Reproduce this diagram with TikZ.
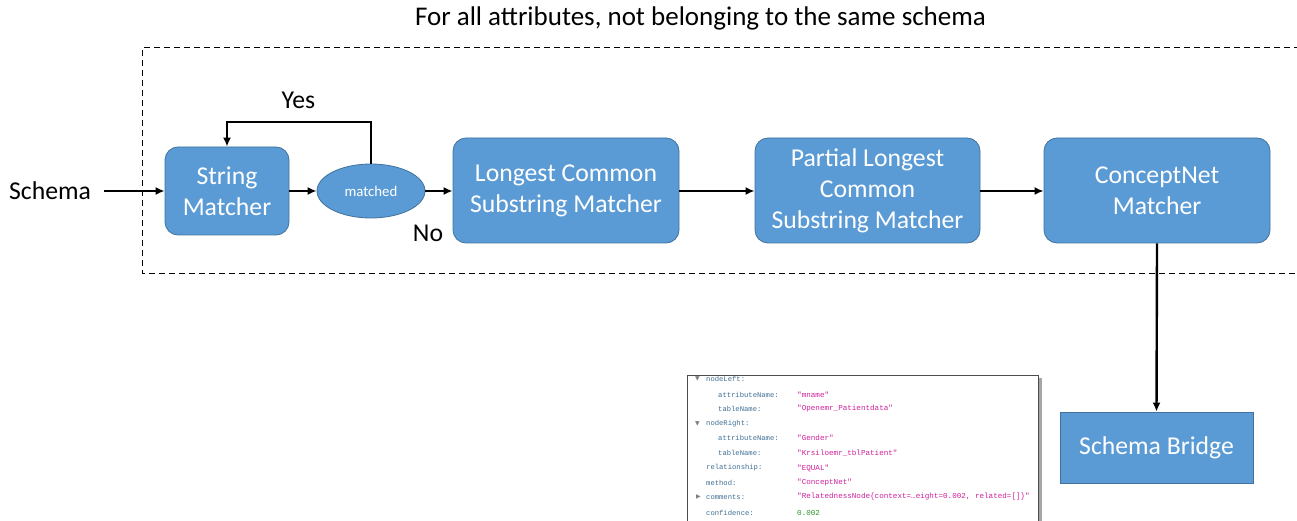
\documentclass[tikz,border=0pt]{standalone}
\usepackage{fontspec}
\setmainfont{Carlito}
\newfontfamily\monofont{Liberation Mono}
\newfontfamily\symfont{DejaVu Sans}
\usetikzlibrary{arrows.meta,shapes.geometric}
\definecolor{boxfill}{HTML}{5B9BD5}
\definecolor{boxdraw}{HTML}{41719C}
\definecolor{keyc}{HTML}{3F6F95}
\definecolor{valc}{HTML}{D0209C}
\definecolor{numc}{HTML}{2E9A2E}
\tikzset{
  proc/.style={draw=boxdraw,fill=boxfill,line width=0.8pt,rounded corners=13pt,text=white,align=center,font=\fontsize{25.7}{31}\selectfont,inner sep=0pt},
  flat/.style={draw=boxdraw,fill=boxfill,line width=0.8pt,text=white,align=center,font=\fontsize{25.7}{31}\selectfont,inner sep=0pt},
  conn/.style={line width=2.4pt,-{Latex[length=9pt,width=8pt]}},
  lbl/.style={font=\fontsize{25.7}{30}\selectfont,inner sep=0pt},
  key/.style={font=\monofont\fontsize{7.2}{9}\selectfont,text=keyc,anchor=west,inner sep=0pt},
  val/.style={font=\monofont\fontsize{7.6}{9}\selectfont,text=valc,anchor=west,inner sep=0pt},
  tri/.style={font=\symfont\fontsize{6}{7}\selectfont,text=gray,anchor=west,inner sep=0pt}
}
\begin{document}
\begin{tikzpicture}[x=1pt,y=-1pt]
\useasboundingbox (0,0) rectangle (1297,521);
% title
\node[lbl,font=\fontsize{27}{30}\selectfont] (title) at (700.5,18) {For all attributes, not belonging to the same schema};
% dashed frame
\draw[dashed,line width=1pt,dash pattern=on 6pt off 4pt] (1300,48) -- (142,48) -- (142,273) -- (1300,273);
% nodes
\node[lbl] (schema) at (50,191) {Schema};
\node[proc,minimum width=124pt,minimum height=88pt] (sm) at (227,191) {String\\Matcher};
\node[ellipse,draw=boxdraw,fill=boxfill,line width=0.8pt,minimum width=108pt,minimum height=54pt,inner sep=0pt,text=white,font=\fontsize{14.8}{17}\selectfont] (match) at (371,191) {matched};
\node[proc,minimum width=226pt,minimum height=105pt] (lcs) at (566,190.5) {Longest Common\\Substring Matcher};
\node[proc,minimum width=225pt,minimum height=105pt] (plcs) at (867.5,190.5) {Partial Longest\\Common\\Substring Matcher};
\node[proc,minimum width=226pt,minimum height=105pt] (cn) at (1157,190.5) {ConceptNet\\Matcher};
\node[flat,minimum width=193pt,minimum height=71pt,rounded corners=0pt] (sb) at (1156.5,447.5) {Schema Bridge};
\node[lbl] (yes) at (298.5,100) {Yes};
\node[lbl] (no) at (428,233) {No};
% connectors
\coordinate (sstart) at (104,191);
\draw[conn] (sstart) -- (sm.west);
\draw[conn] (sm.east) -- (match.west);
\draw[conn] (match.east) -- (lcs.west |- match.east);
\draw[conn] (lcs.east |- sm.east) -- (plcs.west |- sm.east);
\draw[conn] (plcs.east |- sm.east) -- (cn.west |- sm.east);
\draw[conn] (match.north) -- (371,122) -- (227,122) -- (sm.north);
\draw[conn] (cn.south) -- (sb.north);
% screenshot
\fill[black!35] (690,378) rectangle (1042,521);
\node[draw=black!70,fill=white,line width=0.8pt,minimum width=351pt,minimum height=146pt,inner sep=0pt,anchor=north west] (shot) at (687,375) {};
\node[tri] (t1) at (695,379) {▼};
\node[key] (k1) at (706,379) {nodeLeft:};
\node[key] (k2) at (718,395) {attributeName:};
\node[val] (v2) at (797,395) {"mname"};
\node[key] (k3) at (718,409) {tableName:};
\node[val] (v3) at (797,409) {"Openemr\_Patientdata"};
\node[tri] (t4) at (695,424) {▼};
\node[key] (k4) at (706,424) {nodeRight:};
\node[key] (k5) at (718,438) {attributeName:};
\node[val] (v5) at (797,438) {"Gender"};
\node[key] (k6) at (718,453) {tableName:};
\node[val] (v6) at (797,453) {"Krsiloemr\_tblPatient"};
\node[key] (k7) at (706,468) {relationship:};
\node[val] (v7) at (797,468) {"EQUAL"};
\node[key] (k8) at (706,483) {method:};
\node[val] (v8) at (797,483) {"ConceptNet"};
\node[tri] (t9) at (696,497) {▶};
\node[key] (k9) at (706,497) {comments:};
\node[val] (v9) at (797,497) {"RelatednessNode\{context=…eight=0.002, related=[]\}"};
\node[key] (k10) at (706,513) {confidence:};
\node[val,text=numc] (v10) at (797,513) {0.002};
\end{tikzpicture}
\end{document}
